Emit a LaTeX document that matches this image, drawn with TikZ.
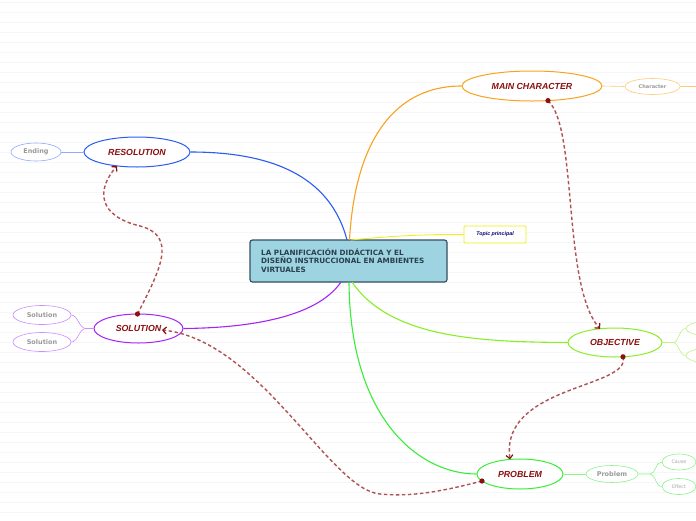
\documentclass[tikz,border=0pt]{standalone}
\usepackage{fontspec}
\setmainfont{DejaVu Sans}
\newfontfamily\arialf{Liberation Sans}
\usetikzlibrary{shapes.geometric,arrows.meta,calc}
\definecolor{cblue}{HTML}{2A5CF0}
\definecolor{cblueL}{HTML}{8FAAFF}
\definecolor{corange}{HTML}{F8A21E}
\definecolor{corangeL}{HTML}{FCCB78}
\definecolor{cpurple}{HTML}{A624F2}
\definecolor{cpurpleL}{HTML}{CC8CFF}
\definecolor{clime}{HTML}{8AEE24}
\definecolor{climeL}{HTML}{BDF286}
\definecolor{cgreen}{HTML}{38EE38}
\definecolor{cgreenL}{HTML}{8CF28C}
\definecolor{cyel}{HTML}{EEEE10}
\definecolor{ctext}{HTML}{8B1010}
\definecolor{crel}{HTML}{AE5252}
\definecolor{cgray}{HTML}{999999}
\definecolor{cfill}{HTML}{9ED4E2}
\definecolor{cborder}{HTML}{35505E}
\definecolor{cline}{HTML}{F6F6F6}
\tikzset{
  mainell/.style={ellipse, draw, line width=1pt, inner sep=0pt, fill=white,
    font=\arialf\bfseries\itshape\fontsize{8.8}{10}\selectfont, text=ctext},
  subell/.style={ellipse, draw, line width=0.6pt, inner sep=0pt, fill=white,
    font=\bfseries\fontsize{6.5}{7}\selectfont, text=cgray},
  tinyell/.style={ellipse, draw, line width=0.6pt, inner sep=0pt, fill=white,
    font=\fontsize{4.8}{6}\selectfont, text=black!35},
  mainconn/.style={line width=1.1pt},
  subconn/.style={line width=0.6pt},
  relconn/.style={crel, dash pattern=on 3.5pt off 2.5pt, line width=1.4pt,
    -{Straight Barb[length=3.5pt,width=7pt,color=ctext,line width=1.2pt]}},
  reldot/.style={fill=ctext}
}
\begin{document}
\begin{tikzpicture}[x=1pt,y=-1pt]
\useasboundingbox (0,0) rectangle (696,520);
\clip (0,0) rectangle (696,520);
\fill[white] (0,0) rectangle (696,520);
\foreach \yy in {2.5,12.5,...,520} {\draw[cline, line width=1.4pt] (0,\yy) -- (696,\yy);}

% central node
\node[draw=cborder, line width=1.2pt, fill=cfill, rounded corners=2.5pt,
  minimum width=197pt, minimum height=42pt, inner sep=0pt] (c) at (348.5,261) {};
\node[anchor=north west, align=left, inner sep=0pt, text=cborder!80!black,
  font=\bfseries\fontsize{7.25}{8.8}\selectfont] (ct) at (261,248.2)
  {LA PLANIFICACIÓN DIDÁCTICA Y EL\\DISEÑO INSTRUCCIONAL EN AMBIENTES\\VIRTUALES};

% main nodes
\node[mainell, draw=corange, minimum width=140pt, minimum height=30pt] (mc) at (532,86) {MAIN CHARACTER};
\node[mainell, draw=cblue, minimum width=106pt, minimum height=30pt] (res) at (137,152) {RESOLUTION};
\node[mainell, draw=cpurple, minimum width=89pt, minimum height=29pt] (sol) at (138.5,328.5) {SOLUTION};
\node[mainell, draw=clime, minimum width=94pt, minimum height=29pt] (obj) at (615,342.5) {OBJECTIVE};
\node[mainell, draw=cgreen, minimum width=86pt, minimum height=30pt] (prob) at (520,474) {PROBLEM};

% topic principal
\node[draw=cyel, line width=0.8pt, fill=white, rounded corners=1pt, minimum width=62pt, minimum height=17pt,
  inner sep=0pt, text=blue!45!black, font=\arialf\bfseries\itshape\fontsize{5.3}{6}\selectfont] (tp) at (495,234.5) {Topic principal};

% sub nodes
\node[subell, draw=corangeL, minimum width=55pt, minimum height=16pt, font=\bfseries\fontsize{5}{6}\selectfont] (char) at (652.5,86.5) {Character};
\coordinate (charout) at (720,86.5);
\node[subell, draw=cblueL, minimum width=50pt, minimum height=18pt] (end) at (36,152) {Ending};
\node[subell, draw=cpurpleL, minimum width=58pt, minimum height=19pt] (s1) at (42,315) {Solution};
\node[subell, draw=cpurpleL, minimum width=58pt, minimum height=19pt] (s2) at (42,342) {Solution};
\node[subell, draw=cgreenL, minimum width=52pt, minimum height=17pt] (psub) at (612,474) {Problem};
\node[tinyell, draw=cgreenL, minimum width=34pt, minimum height=16pt] (cause) at (679,462) {Cause};
\node[tinyell, draw=cgreenL, minimum width=34pt, minimum height=16pt] (effect) at (679,486.5) {Effect};
\node[tinyell, draw=climeL, minimum width=58pt, minimum height=16pt] (o1) at (715,328.5) {};
\node[tinyell, draw=climeL, minimum width=58pt, minimum height=16pt] (o2) at (715,355.5) {};

% main connectors
\draw[mainconn, cblue] (347,240) .. controls (330,175) and (270,152) .. (res.east);
\draw[mainconn, corange] (349.5,240) .. controls (355,140) and (395,86) .. (mc.west);
\draw[mainconn, cyel, line width=0.8pt] (351,240) .. controls (390,236) and (430,234) .. (tp.west);
\draw[mainconn, cpurple] (341,282) .. controls (315,320) and (240,328) .. (sol.east);
\draw[mainconn, clime] (352,282) .. controls (390,338) and (480,342) .. (obj.west);
\draw[mainconn, cgreen] (349,282) .. controls (350,420) and (420,474) .. (prob.west);

% sub connectors
\draw[subconn, corangeL] (mc.east) -- (char.west);
\draw[subconn, corangeL] (char.east) -- (charout);
\draw[subconn, cblueL] (res.west) -- (end.east);
\draw[subconn, cpurpleL] (sol.west) -- (86,328.5) .. controls (79,328.5) and (78,315) .. (s1.east);
\draw[subconn, cpurpleL] (86,328.5) .. controls (79,328.5) and (78,342) .. (s2.east);
\draw[subconn, cgreenL] (prob.east) -- (psub.west);
\draw[subconn, cgreenL] (psub.east) -- (650,474) .. controls (656,474) and (655,462) .. (cause.west);
\draw[subconn, cgreenL] (650,474) .. controls (656,474) and (655,486.5) .. (effect.west);
\draw[subconn, climeL] (obj.east) -- (673,342.5) .. controls (679,342.5) and (679,328.5) .. (o1.west);
\draw[subconn, climeL] (673,342.5) .. controls (679,342.5) and (679,355.5) .. (o2.west);

% relationship connector end points on the node borders
\coordinate (mcA) at ($(mc.center)+(16,14.6)$);
\coordinate (objB) at ($(obj.center)+(-15,-13.7)$);
\coordinate (objA) at ($(obj.center)+(8,14.3)$);
\coordinate (probB) at ($(prob.center)+(-10,-14.6)$);
\coordinate (probA) at ($(prob.center)+(-38,7)$);
\coordinate (solB) at ($(sol.center)+(23.5,1.5)$);
\coordinate (solA) at ($(sol.center)+(-1,-14.5)$);
\coordinate (resB) at ($(res.center)+(-20,13.9)$);

\draw[relconn] (mcA) .. controls (578,128) and (562,285) .. (objB);
\draw[relconn] (objA) .. controls (632,388) and (500,385) .. (probB);
\draw[relconn] (probA) .. controls (440,492) and (410,497) .. (380,494) .. controls (330,490) and (260,340) .. (solB);
\draw[relconn] (solA) .. controls (160,270) and (178,236) .. (140,226) .. controls (98,216) and (96,190) .. (resB);
\foreach \p in {mcA,objA,probA,solA} {\fill[reldot] (\p) circle (2.6pt);}
\end{tikzpicture}
\end{document}
